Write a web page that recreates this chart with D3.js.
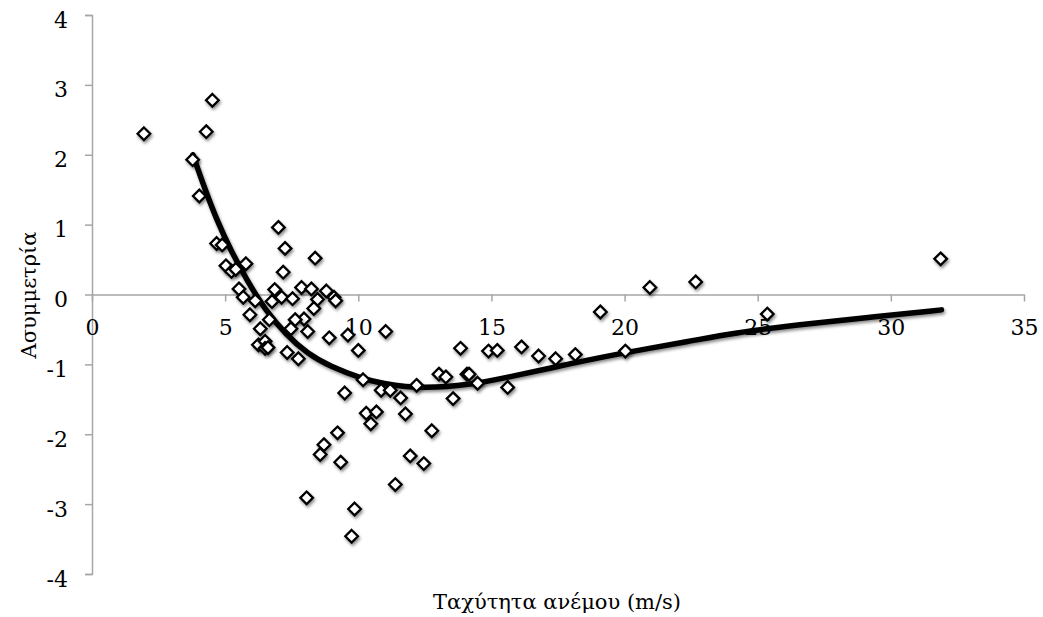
<!DOCTYPE html>
<html>
<head>
<meta charset="utf-8">
<script src="https://cdn.jsdelivr.net/npm/d3@7"></script>
<style>
  html, body { margin: 0; padding: 0; background: #fff; }
  svg { display: block; }
  text { font-family: "DejaVu Serif", "Liberation Serif", serif; fill: #000; }
</style>
</head>
<body>
<svg id="chart" width="1043" height="617"></svg>
<script>
// Scatter data: wind speed (m/s) vs skewness
const speed = [1.95, 4.52, 4.29, 3.78, 4.03, 4.68, 4.89, 7.0, 7.25, 7.18, 5.03, 5.24, 5.40, 5.78,
  8.38, 5.52, 5.68, 6.13, 5.93, 6.86, 6.76, 7.12, 7.53, 7.87, 8.24, 8.80, 8.47, 9.09, 9.15,
  8.33, 7.96, 7.63, 7.47, 8.10, 6.66, 6.32, 8.91, 9.61, 10.0, 6.25, 6.50, 6.50, 6.61, 7.33, 7.75,
  11.03, 13.84, 10.18, 9.49, 10.86, 11.20, 11.59, 12.19, 13.03, 13.29, 13.56, 14.08,
  10.30, 10.68, 10.47, 11.77, 12.76, 9.22, 8.71, 8.57, 9.34, 11.95, 12.46, 11.39, 8.06, 9.86, 9.75,
  20.95, 19.09, 14.89, 15.22, 16.13, 16.77, 17.41, 18.15, 20.03, 14.16, 14.48, 15.61,
  22.67, 31.87, 25.36];
const skew = [2.30, 2.78, 2.33, 1.93, 1.41, 0.73, 0.71, 0.96, 0.66, 0.32, 0.41, 0.33, 0.36, 0.44,
  0.52, 0.08, -0.04, -0.09, -0.29, 0.07, -0.10, -0.04, -0.06, 0.10, 0.08, 0.05, -0.07, -0.04, -0.09,
  -0.20, -0.35, -0.36, -0.49, -0.53, -0.36, -0.49, -0.62, -0.58, -0.80, -0.72, -0.67, -0.77, -0.76, -0.83, -0.92,
  -0.53, -0.77, -1.22, -1.41, -1.37, -1.37, -1.48, -1.30, -1.14, -1.18, -1.49, -1.14,
  -1.70, -1.68, -1.85, -1.71, -1.95, -1.98, -2.15, -2.29, -2.40, -2.31, -2.42, -2.72, -2.91, -3.07, -3.46,
  0.10, -0.25, -0.81, -0.80, -0.75, -0.88, -0.92, -0.86, -0.81, -1.14, -1.27, -1.33,
  0.18, 0.51, -0.28];

// Trend line
const trendX = [3.79, 4.2, 4.68, 5.2, 5.81, 6.5, 7.3, 8.1, 8.94, 10.1, 11.0, 11.8, 12.5, 13.3,
  14.19, 15.57, 18.07, 20.03, 22.45, 24.08, 26.58, 29.1, 31.9];
const trendY = [2.0, 1.55, 1.07, 0.64, 0.21, -0.22, -0.58, -0.85, -1.03, -1.2, -1.28, -1.32, -1.33, -1.32,
  -1.29, -1.19, -0.98, -0.83, -0.67, -0.55, -0.43, -0.33, -0.22];

const xTicks = [0, 5, 10, 15, 20, 25, 30, 35];
const yTicks = [4, 3, 2, 1, 0, -1, -2, -3, -4];
const xTitle = "Ταχύτητα ανέμου (m/s)";
const yTitle = "Ασυμμετρία";

const svg = d3.select("#chart");
const x = d3.scaleLinear().domain([0, 35]).range([92, 1024]);
const y = d3.scaleLinear().domain([-4, 4]).range([574, 15]);
const axisColor = "#a6a6a6";
const fmt = d => String(d);

const defs = svg.append("defs");
const f = defs.append("filter").attr("id", "shadow")
  .attr("x", "-50%").attr("y", "-50%").attr("width", "200%").attr("height", "200%");
f.append("feDropShadow").attr("dx", 1.2).attr("dy", 2.2).attr("stdDeviation", 1.4)
  .attr("flood-color", "#000").attr("flood-opacity", 0.45);

// Y axis
const yAxis = svg.append("g").attr("transform", `translate(${x(0)},0)`)
  .call(d3.axisLeft(y).tickValues(yTicks).tickSize(7).tickSizeOuter(7).tickFormat(fmt));
yAxis.select(".domain").attr("stroke", axisColor).attr("stroke-width", 1.5);
yAxis.selectAll(".tick line").attr("stroke", axisColor).attr("stroke-width", 1.5);
yAxis.selectAll(".tick text").attr("x", -24).attr("dy", "0.55em")
  .style("font-family", "DejaVu Serif").style("font-size", "22px").attr("fill", "#000");

// X axis at y = 0
const xAxis = svg.append("g").attr("transform", `translate(0,${y(0)})`)
  .call(d3.axisBottom(x).tickValues(xTicks).tickSize(7).tickSizeOuter(0).tickFormat(fmt));
xAxis.select(".domain").attr("stroke", axisColor).attr("stroke-width", 1.5);
xAxis.selectAll(".tick text").attr("y", 25)
  .style("font-family", "DejaVu Serif").style("font-size", "22px").attr("fill", "#000");
xAxis.selectAll(".tick line").attr("stroke", axisColor).attr("stroke-width", 1.5);

// Trend line
const pts = trendX.map((d, i) => [d, trendY[i]]);
svg.append("path")
  .datum(pts)
  .attr("d", d3.line().x(d => x(d[0])).y(d => y(d[1])).curve(d3.curveBasis))
  .attr("fill", "none").attr("stroke", "#000").attr("stroke-width", 5.5)
  .attr("stroke-linecap", "round")
  .attr("filter", "url(#shadow)");

// Markers
const diamond = "M0,-6.3L6.3,0L0,6.3L-6.3,0Z";
svg.append("g").selectAll("path")
  .data(speed.map((d, i) => [d, skew[i]]))
  .join("path")
  .attr("d", diamond)
  .attr("transform", d => `translate(${x(d[0])},${y(d[1])})`)
  .attr("fill", "#fff").attr("stroke", "#000").attr("stroke-width", 2.3)
  .attr("filter", "url(#shadow)");

// Titles
svg.append("text").attr("x", 557).attr("y", 609).attr("text-anchor", "middle")
  .style("font-size", "21px").text(xTitle);
svg.append("text").attr("transform", "translate(29,295) rotate(-90)")
  .attr("text-anchor", "middle").attr("dy", "0.35em")
  .style("font-size", "21px").text(yTitle);
</script>
</body>
</html>
